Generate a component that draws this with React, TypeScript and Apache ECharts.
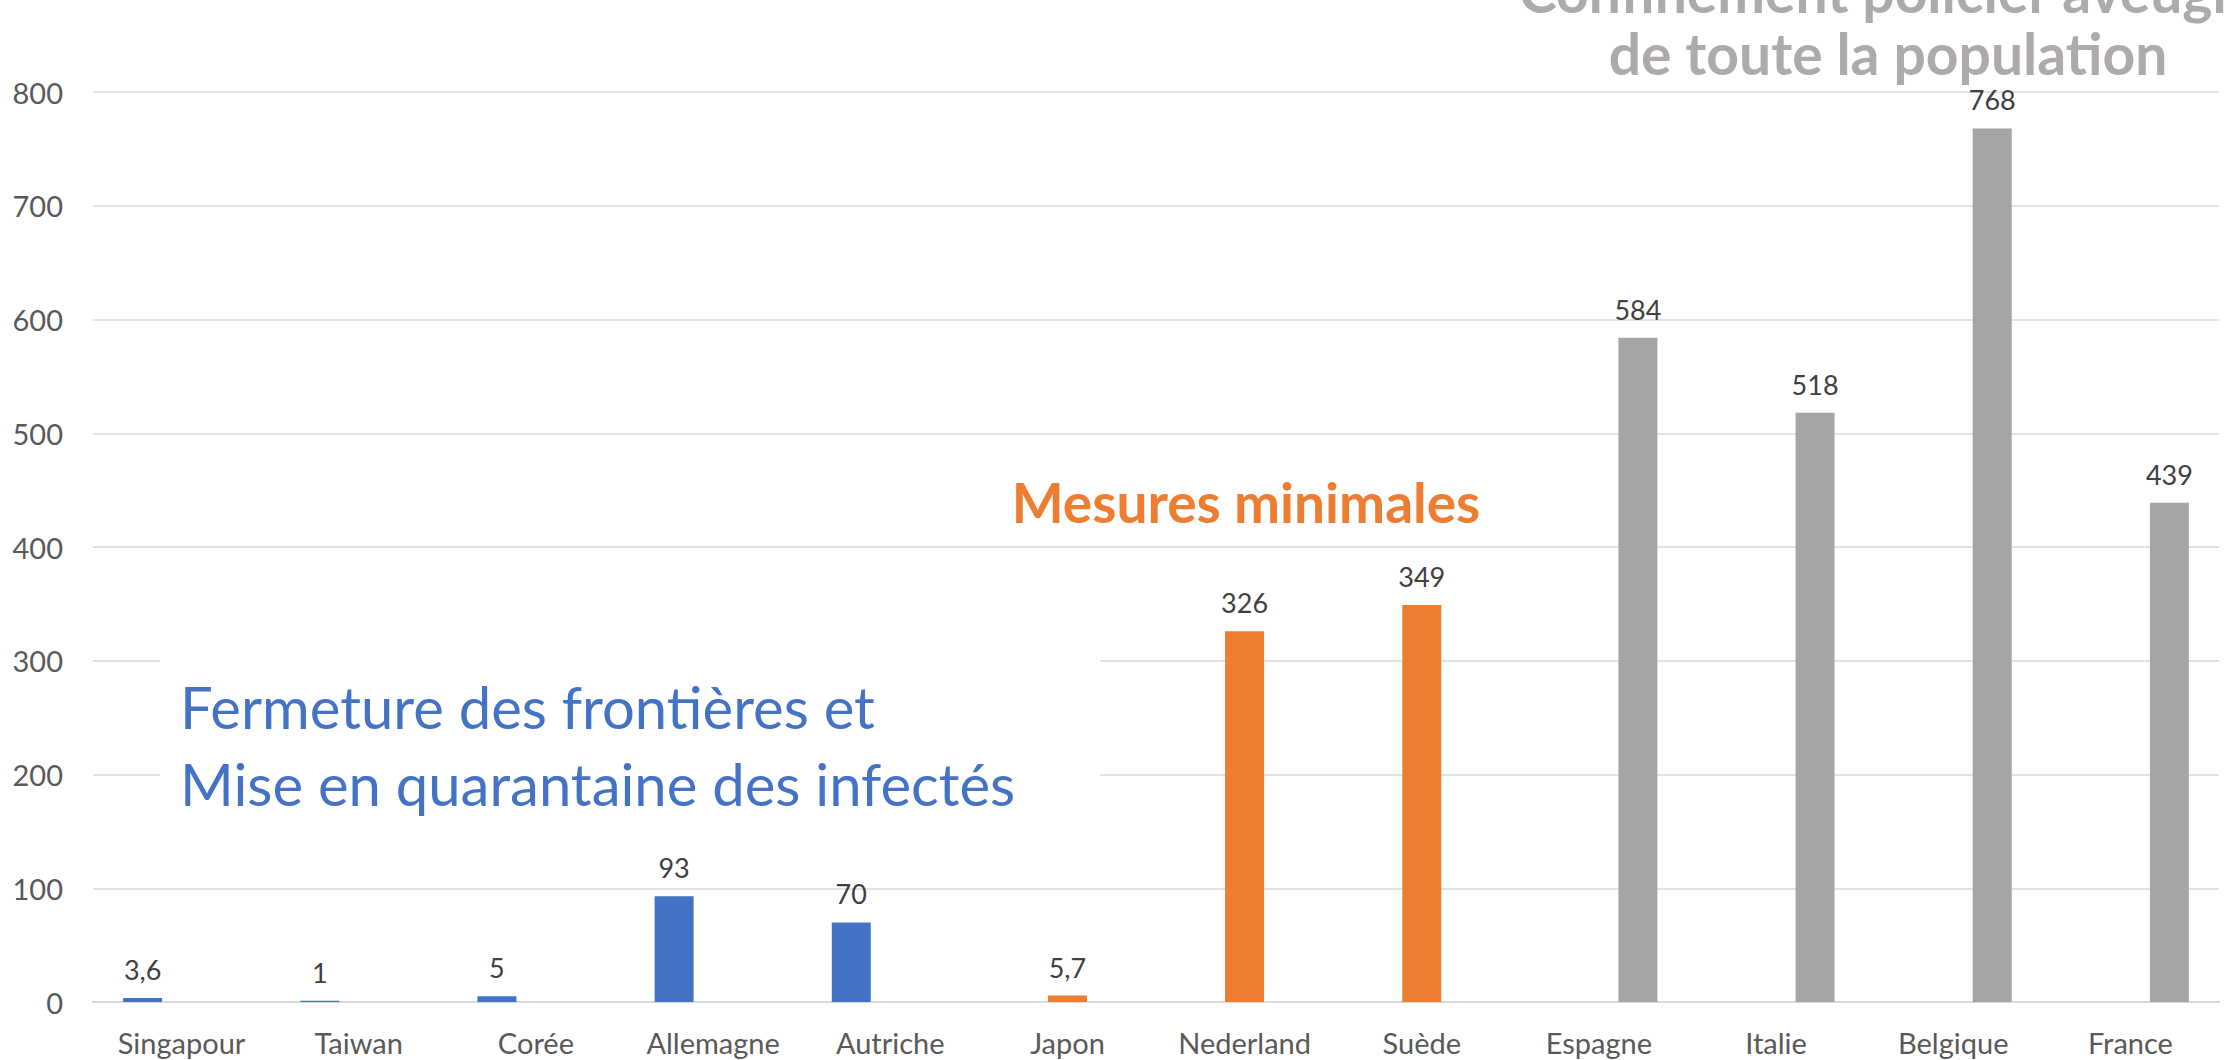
import React, { useEffect, useRef } from "react";
import * as echarts from "echarts";

const categories = [
  "Singapour", "Taiwan", "Corée", "Allemagne", "Autriche", "Japon",
  "Nederland", "Suède", "Espagne", "Italie", "Belgique", "France",
];
const values = [3.6, 1, 5, 93, 70, 5.7, 326, 349, 584, 518, 768, 439];
const groups = [
  "fermeture", "fermeture", "fermeture", "fermeture", "fermeture",
  "minimales", "minimales", "minimales",
  "confinement", "confinement", "confinement", "confinement",
];
const seriesKeys = ["fermeture", "minimales", "confinement"];
const seriesColors = ["#4472C4", "#ED7D31", "#A5A5A5"];
const yTicks = { min: 0, max: 800, interval: 100 };

const annotationFermeture = ["Fermeture des frontières et", "Mise en quarantaine des infectés"];
const annotationMinimales = "Mesures minimales";
const annotationConfinement = ["Confinement policier aveugle", "de toute la population"];

const FONT = "Lato";

export default function App() {
  const ref = useRef<HTMLDivElement>(null);
  useEffect(() => {
    if (!ref.current) return;
    const chart = echarts.init(ref.current, undefined, { renderer: "svg" });
    const series = seriesKeys.map((key, si) => ({
      type: "bar",
      name: key,
      data: values.map((v, i) => (groups[i] === key ? v : "-")),
      barGap: "0%",
      barCategoryGap: "34%",
      itemStyle: { color: seriesColors[si] },
      label: {
        show: true,
        position: "top",
        distance: 15,
        fontFamily: FONT,
        fontSize: 27,
        color: "#404040",
        formatter: (p: any) => String(p.value).replace(".", ","),
      },
    }));
    chart.setOption({
      animation: false,
      textStyle: { fontFamily: FONT },
      grid: { left: 93, right: 6, top: 92, bottom: 58, containLabel: false },
      xAxis: {
        type: "category",
        data: categories,
        axisTick: { show: false },
        axisLine: { lineStyle: { color: "#D9D9D9", width: 2 } },
        axisLabel: { fontFamily: FONT, fontSize: 29, color: "#595959", margin: 26 },
      },
      yAxis: {
        type: "value",
        min: yTicks.min,
        max: yTicks.max,
        interval: yTicks.interval,
        axisLine: { show: false },
        axisTick: { show: false },
        splitLine: { lineStyle: { color: "#D9D9D9", width: 1.5 } },
        axisLabel: { fontFamily: FONT, fontSize: 29, color: "#595959", margin: 30 },
      },
      graphic: [
        { type: "rect", z: 1, shape: { x: 160, y: 600, width: 940, height: 250 }, style: { fill: "#ffffff" } },
        { type: "rect", z: 1, shape: { x: 988, y: 445, width: 514, height: 90 }, style: { fill: "#ffffff" } },
        {
          type: "text", z: 5, x: 180, y: 706,
          style: { text: annotationFermeture[0], fontFamily: FONT, fontSize: 58, fill: "#4472C4", align: "left", verticalAlign: "middle" },
        },
        {
          type: "text", z: 5, x: 180, y: 783,
          style: { text: annotationFermeture[1], fontFamily: FONT, fontSize: 58, fill: "#4472C4", align: "left", verticalAlign: "middle" },
        },
        {
          type: "text", z: 5, x: 1246, y: 502,
          style: { text: annotationMinimales, fontFamily: FONT, fontSize: 55, fontWeight: "bold", fill: "#ED7D31", align: "center", verticalAlign: "middle" },
        },
        {
          type: "text", z: 5, x: 1888, y: -9,
          style: { text: annotationConfinement[0], fontFamily: FONT, fontSize: 57, fontWeight: "bold", fill: "#AEAAAA", align: "center", verticalAlign: "middle" },
        },
        {
          type: "text", z: 5, x: 1888, y: 53,
          style: { text: annotationConfinement[1], fontFamily: FONT, fontSize: 57, fontWeight: "bold", fill: "#AEAAAA", align: "center", verticalAlign: "middle" },
        },
      ],
      series,
    });
    return () => chart.dispose();
  }, []);
  return (
    <div
      ref={ref}
      style={{ position: "absolute", left: 0, top: 0, width: 2225, height: 1060, background: "#ffffff" }}
    />
  );
}
